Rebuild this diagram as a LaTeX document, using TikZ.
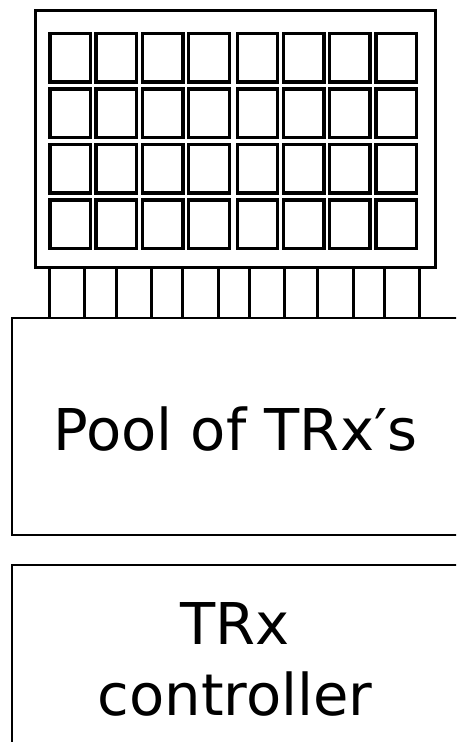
\documentclass[tikz,border=0pt]{standalone}
\usepackage{fontspec}
\setmainfont{DejaVu Sans}
\begin{document}
\begin{tikzpicture}[x=1pt,y=-1pt,
  panelbox/.style={draw,line width=3pt,rectangle,inner sep=0pt},
  cellbox/.style={draw,line width=3.2pt,rectangle,inner sep=0pt,minimum width=40.5pt,minimum height=48.5pt},
  pin/.style={line width=2.5pt},
  bigbox/.style={draw,line width=2.4pt,rectangle,inner sep=0pt},
  lbl/.style={font=\fontsize{57.6pt}{70.7pt}\selectfont,align=center,inner sep=0pt}]
\useasboundingbox (0,0) rectangle (456,742);
\clip (0,0) rectangle (456,742);
\fill[white] (0,0) rectangle (456,742);
% panel
\node[panelbox,minimum width=400pt,minimum height=257pt] (panel) at (235,138.5) {};
\foreach \c/\cx in {1/70.3,2/116.3,3/162.7,4/209,5/257.5,6/303.7,7/349.7,8/396.3}{
  \foreach \r/\ry in {1/57.8,2/113.3,3/168.7,4/224.3}{
    \node[cellbox] (cell\c\r) at (\cx,\ry) {};
  }
}
% pool box
\node[bigbox,minimum width=446pt,minimum height=217pt] (pool) at (235,426.5) {};
\node[lbl,anchor=base] (pooltext) at (235.3,450) {Pool of TRx′s};
% pins
\foreach \px in {49.3,84.3,116.7,151.7,182.3,218.7,249.3,284.3,317.3,353.3,384.3,419.3}{
  \draw[pin] (\px,0 |- panel.south) -- (\px,0 |- pool.north);
}
% controller box
\node[bigbox,minimum width=446pt,minimum height=200pt] (ctrl) at (235,665) {};
\node[lbl,anchor=base] (ctrltext) at (235,715) {TRx\\controller};
\end{tikzpicture}
\end{document}
